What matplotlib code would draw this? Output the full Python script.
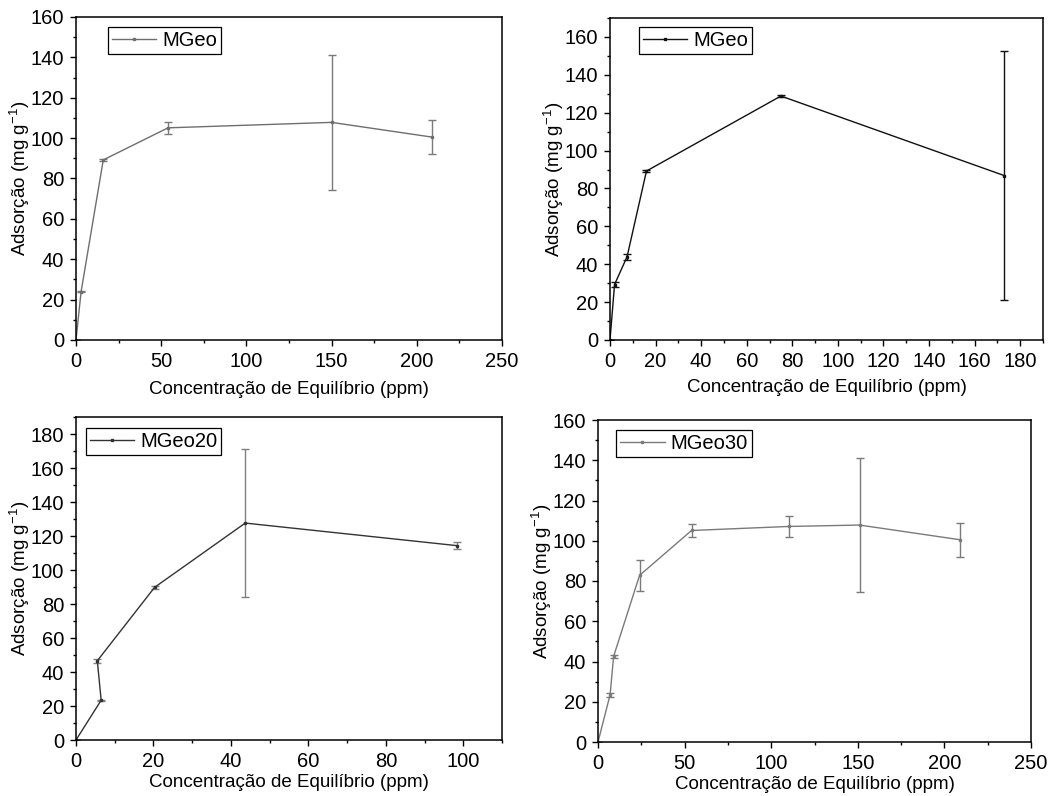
import matplotlib
matplotlib.use('Agg')
import matplotlib.pyplot as plt
from matplotlib.lines import Line2D
from matplotlib.ticker import MultipleLocator, AutoMinorLocator

plt.rcParams['font.family'] = ['Liberation Sans', 'DejaVu Sans']
plt.rcParams['font.size'] = 13.5

# painel 1 - MGeo (cinza)
x1 = [0, 3, 16, 54, 150, 209]
y1 = [0, 24, 89.2, 105.1, 107.8, 100.5]
e1 = [0, 0.3, 0.4, 3.1, 33.4, 8.3]

# painel 2 - MGeo (preto)
x2 = [0, 2, 7.5, 16, 75, 173]
y2 = [0, 29.3, 44, 89.2, 128.8, 86.8]
e2 = [0, 1.3, 1.6, 0.3, 0.6, 65.8]

# painel 3 - MGeo20
x3 = [0, 6.5, 5.5, 20.3, 43.7, 98.5]
y3 = [0, 23.4, 46.6, 89.8, 127.6, 114.3]
e3 = [0, 0.4, 1.3, 1.0, 43.5, 2.2]

# painel 4 - MGeo30
x4 = [0, 7, 9, 24, 54, 110, 151, 209]
y4 = [0, 23.5, 42.5, 82.8, 105.1, 107.1, 107.8, 100.5]
e4 = [0, 0.9, 0.9, 7.8, 3.1, 5.0, 33.3, 8.4]

xlabel = 'Concentração de Equilíbrio (ppm)'
ylabel = 'Adsorção (mg g$^{\\mathregular{-1}}$)'

W, H = 1063, 796
fig = plt.figure(figsize=(W / 100, H / 100), dpi=100)


def make_ax(l, r, t, b):
    return fig.add_axes([l / W, 1 - b / H, (r - l) / W, (b - t) / H])


def draw(ax, x, y, e, label, lc, ec, xlim, ylim, xstep, ystep, leg_anchor, xpad):
    ax.errorbar(x, y, yerr=e, color=lc, ecolor=ec, lw=1.0, elinewidth=1.0,
                capsize=3.2, capthick=1.0, marker='s', markersize=1.8)
    ax.set_xlim(*xlim)
    ax.set_ylim(*ylim)
    ax.xaxis.set_major_locator(MultipleLocator(xstep))
    ax.yaxis.set_major_locator(MultipleLocator(ystep))
    ax.xaxis.set_minor_locator(AutoMinorLocator(2))
    ax.yaxis.set_minor_locator(AutoMinorLocator(2))
    ax.tick_params(which='both', direction='out', top=False, right=False,
                   width=1.0, labelsize=14.5)
    ax.tick_params(which='major', length=4, pad=4.5)
    ax.tick_params(which='minor', length=2.5)
    for s in ax.spines.values():
        s.set_linewidth(1.1)
    ax.set_xlabel(xlabel, fontsize=13.5, labelpad=xpad)
    ax.set_ylabel(ylabel, fontsize=13.5, labelpad=-1)
    h = Line2D([], [], color=lc, lw=1.0, marker='s', markersize=1.8)
    leg = ax.legend([h], [label], loc='upper left', bbox_to_anchor=leg_anchor,
                    fancybox=False, edgecolor='black', framealpha=1,
                    fontsize=14.5, handlelength=2.2, borderpad=0.2,
                    handletextpad=0.3, borderaxespad=0)
    leg.get_frame().set_linewidth(0.9)


ax1 = make_ax(76, 502, 17, 340)
draw(ax1, x1, y1, e1, 'MGeo', '#6e6e6e', '#7a7a7a', (0, 250), (0, 160), 50, 20,
     (0.075, 0.969), 7)

ax2 = make_ax(610, 1043, 18, 340)
draw(ax2, x2, y2, e2, 'MGeo', '#111111', '#111111', (0, 190), (0, 170), 20, 20,
     (0.067, 0.972), 6)

ax3 = make_ax(76, 502, 417, 740)
draw(ax3, x3, y3, e3, 'MGeo20', '#333333', '#808080', (0, 110), (0, 190), 20, 20,
     (0.023, 0.966), 2)

ax4 = make_ax(598, 1031, 420, 742)
draw(ax4, x4, y4, e4, 'MGeo30', '#7a7a7a', '#7a7a7a', (0, 250), (0, 160), 50, 20,
     (0.042, 0.969), 2)

fig.savefig('out.png', dpi=100)
